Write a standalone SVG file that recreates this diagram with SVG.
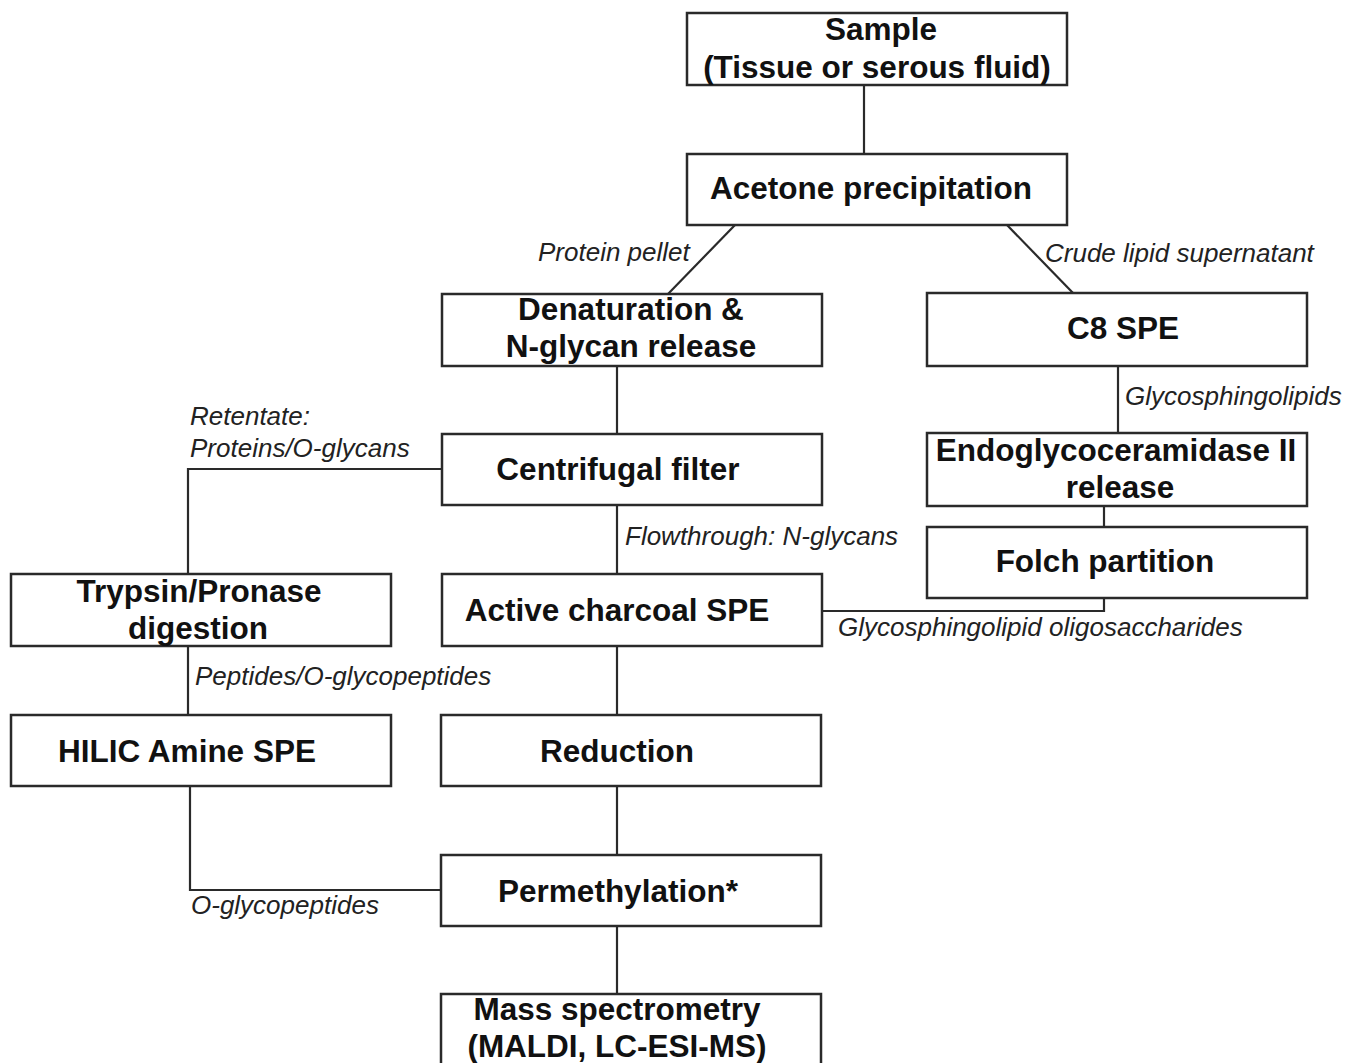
<svg xmlns="http://www.w3.org/2000/svg" width="1347" height="1063" viewBox="0 0 1347 1063">
<style>
.box{fill:#fff;stroke:#2a2a2a;stroke-width:2.5}
.b{font-family:"Liberation Sans",Arial,sans-serif;font-weight:bold;font-size:31.5px;fill:#111;text-anchor:middle}
.i{font-family:"Liberation Sans",Arial,sans-serif;font-style:italic;font-size:26px;fill:#222}
.c{fill:none;stroke:#2a2a2a;stroke-width:2.2}
</style>
<rect width="1347" height="1063" fill="#fff"/>
<g id="connectors">
<line class="c" x1="864" y1="85" x2="864" y2="154"/>
<line class="c" x1="735" y1="225" x2="668" y2="294"/>
<line class="c" x1="1007" y1="225" x2="1073" y2="293"/>
<line class="c" x1="1118" y1="366" x2="1118" y2="433"/>
<line class="c" x1="1104" y1="506" x2="1104" y2="527"/>
<polyline class="c" points="1104,598 1104,611 822,611"/>
<line class="c" x1="617" y1="366" x2="617" y2="434"/>
<polyline class="c" points="442,469 188,469 188,574"/>
<line class="c" x1="617" y1="505" x2="617" y2="574"/>
<line class="c" x1="188" y1="646" x2="188" y2="715"/>
<line class="c" x1="617" y1="646" x2="617" y2="715"/>
<line class="c" x1="617" y1="786" x2="617" y2="855"/>
<polyline class="c" points="190,786 190,890 441,890"/>
<line class="c" x1="617" y1="926" x2="617" y2="994"/>
<text class="i" x="538" y="261">Protein pellet</text>
<text class="i" x="1045" y="262">Crude lipid supernatant</text>
<text class="i" x="1125" y="405">Glycosphingolipids</text>
<text class="i" x="190" y="425">Retentate:</text>
<text class="i" x="190" y="457">Proteins/O-glycans</text>
<text class="i" x="625" y="545">Flowthrough: N-glycans</text>
<text class="i" x="838" y="636">Glycosphingolipid oligosaccharides</text>
<text class="i" x="195" y="685">Peptides/O-glycopeptides</text>
<text class="i" x="191" y="914">O-glycopeptides</text>
</g>
<g id="sample"><rect class="box" x="687" y="13" width="380" height="72"/><text class="b" x="881" y="40">Sample</text><text class="b" x="877" y="78">(Tissue or serous fluid)</text></g>
<g id="acetone"><rect class="box" x="687" y="154" width="380" height="71"/><text class="b" x="871" y="199">Acetone precipitation</text></g>
<g id="denaturation"><rect class="box" x="442" y="294" width="380" height="72"/><text class="b" x="631" y="320">Denaturation &amp;</text><text class="b" x="631" y="357">N-glycan release</text></g>
<g id="c8spe"><rect class="box" x="927" y="293" width="380" height="73"/><text class="b" x="1123" y="339">C8 SPE</text></g>
<g id="endoglyco"><rect class="box" x="927" y="433" width="380" height="73"/><text class="b" x="1116" y="461">Endoglycoceramidase II</text><text class="b" x="1120" y="498">release</text></g>
<g id="folch"><rect class="box" x="927" y="527" width="380" height="71"/><text class="b" x="1105" y="572">Folch partition</text></g>
<g id="centrifugal"><rect class="box" x="442" y="434" width="380" height="71"/><text class="b" x="618" y="480">Centrifugal filter</text></g>
<g id="trypsin"><rect class="box" x="11" y="574" width="380" height="72"/><text class="b" x="199" y="602">Trypsin/Pronase</text><text class="b" x="198" y="639">digestion</text></g>
<g id="charcoal"><rect class="box" x="442" y="574" width="380" height="72"/><text class="b" x="617" y="621">Active charcoal SPE</text></g>
<g id="hilic"><rect class="box" x="11" y="715" width="380" height="71"/><text class="b" x="187" y="762">HILIC Amine SPE</text></g>
<g id="reduction"><rect class="box" x="441" y="715" width="380" height="71"/><text class="b" x="617" y="762">Reduction</text></g>
<g id="permethylation"><rect class="box" x="441" y="855" width="380" height="71"/><text class="b" x="618" y="902">Permethylation*</text></g>
<g id="massspec"><rect class="box" x="441" y="994" width="380" height="75"/><text class="b" x="617" y="1020">Mass spectrometry</text><text class="b" x="617" y="1057">(MALDI, LC-ESI-MS)</text></g>
</svg>
